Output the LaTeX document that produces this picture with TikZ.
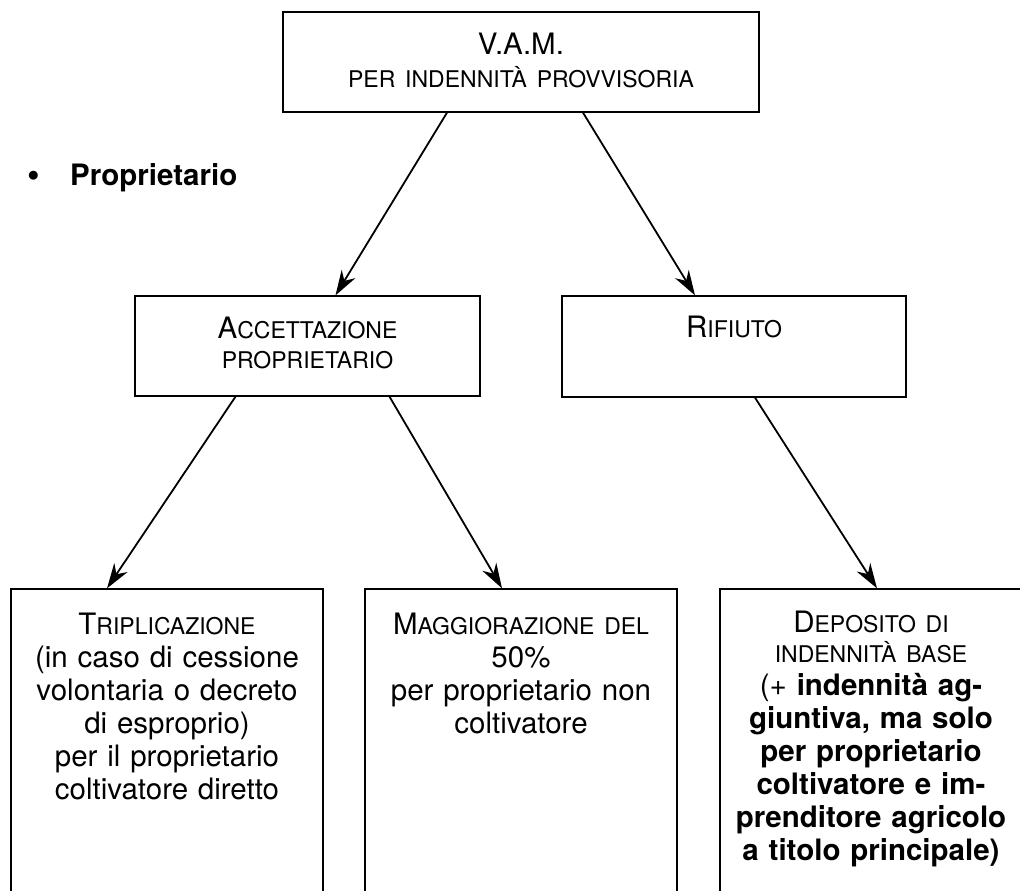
\documentclass[tikz,border=0pt]{standalone}
\usepackage{fontspec}
\setmainfont{TeX Gyre Heros}
\usetikzlibrary{arrows.meta}
\newcommand{\sml}[1]{{\fontsize{23}{28}\selectfont #1}}

\begin{document}
\begin{tikzpicture}[x=1pt,y=-1pt]
				\tikzstyle{box} = [draw=black,line width=1.3pt,inner sep=0pt,align=center,anchor=base,font=\fontsize{29.5}{33}\selectfont]
				\tikzstyle{edge} = [line width=1.8pt,-{Stealth[length=25pt,width=16pt,inset=8pt]}]
				\useasboundingbox (0,0) rectangle (1020,891);
				\node[box,text width=476pt,text height=43pt,text depth=57pt] (vam) at (521,55) {V.A.M.\\\sml{PER INDENNITÀ PROVVISORIA}};
				\node[anchor=base west,font=\fontsize{29.5}{33}\selectfont\bfseries] (prop) at (24,185) {{\fontsize{36}{33}\selectfont\raisebox{-1.5pt}{\textbullet}}\hspace{30pt}Proprietario};
				\node[box,text width=345pt,text height=42pt,text depth=58pt] (acc) at (307.5,338) {A\sml{CCETTAZIONE}\\[-3pt]\sml{PROPRIETARIO}};
				\node[box,text width=344pt,text height=41pt,text depth=60pt] (rif) at (734,337) {R\sml{IFIUTO}};
				\node[box,text width=312pt,text height=45pt,text depth=290pt] (trip) at (167,634) {T\sml{RIPLICAZIONE}\\(in caso di cessione\\volontaria o decreto\\di esproprio)\\per il proprietario\\coltivatore diretto};
				\node[box,text width=312pt,text height=45pt,text depth=290pt] (magg) at (521,634) {M\sml{AGGIORAZIONE DEL}\\50\%\\per proprietario non\\coltivatore};
				\node[box,text width=302pt,text height=43pt,text depth=290pt] (dep) at (871,632) {D\sml{EPOSITO DI}\\[-3pt]\sml{INDENNITÀ BASE}\\(+ \textbf{indennità ag-}\\\textbf{giuntiva, ma solo}\\\textbf{per proprietario}\\\textbf{coltivatore e im-}\\\textbf{prenditore agricolo}\\\textbf{a titolo principale)}};
				\draw[edge] ([xshift=-74pt]vam.south)--([xshift=28pt]acc.north);
				\draw[edge] ([xshift=62pt]vam.south)--([xshift=-39pt]rif.north);
				\draw[edge] ([xshift=-72pt]acc.south)--([xshift=-60pt]trip.north);
				\draw[edge] ([xshift=82pt]acc.south)--([xshift=-19pt]magg.north);
				\draw[edge] ([xshift=21pt]rif.south)--([xshift=6pt]dep.north);
\end{tikzpicture}
\end{document}
